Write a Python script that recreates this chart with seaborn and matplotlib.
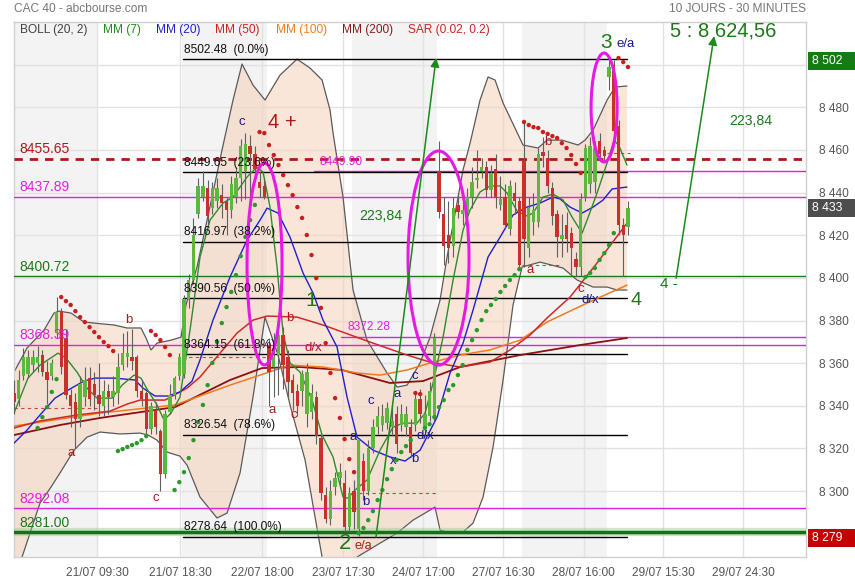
import matplotlib
matplotlib.use("Agg")
import matplotlib.pyplot as plt
from matplotlib.patches import Ellipse, Rectangle
import numpy as np
import pandas as pd
import seaborn as sns

# ---------------- data ----------------
opens = [8346, 8343, 8354, 8355, 8359, 8360, 8364, 8356, 8354, 8374, 8384, 8372, 8345, 8342, 8334, 8344, 8353, 8350,
         8345, 8340, 8347, 8344, 8346, 8359, 8363, 8363, 8363, 8347, 8346, 8329, 8338, 8328, 8308, 8337, 8345, 8354,
         8355, 8390, 8399, 8430, 8438, 8442, 8433, 8436, 8439, 8436, 8432, 8438, 8447, 8450, 8462, 8458, 8445, 8443,
         8368, 8358, 8364, 8373, 8363, 8352, 8347, 8347, 8336, 8337, 8344, 8325, 8298, 8287, 8302, 8306, 8304, 8283,
         8300, 8282, 8314, 8300, 8320, 8330, 8331, 8332, 8330, 8336, 8331, 8330, 8330, 8331, 8343, 8330, 8335, 8335,
         8450, 8430, 8420, 8415, 8434, 8430, 8431, 8438, 8446, 8450, 8452, 8441, 8451, 8434, 8438, 8423, 8440, 8436,
         8455, 8414, 8426, 8426, 8459, 8456, 8442, 8430, 8418, 8425, 8421, 8409, 8405, 8438, 8444, 8445, 8464, 8460,
         8494, 8500, 8471, 8425, 8424]
highs = [8352, 8357, 8367, 8366, 8366, 8368, 8366, 8361, 8362, 8391, 8386, 8376, 8348, 8346, 8354, 8358, 8358, 8356,
         8360, 8352, 8350, 8354, 8365, 8374, 8375, 8376, 8364, 8352, 8347, 8342, 8342, 8329, 8338, 8350, 8354, 8365,
         8392, 8402, 8428, 8447, 8450, 8446, 8445, 8447, 8444, 8438, 8448, 8452, 8465, 8468, 8467, 8462, 8450, 8446,
         8372, 8374, 8378, 8377, 8366, 8355, 8350, 8357, 8360, 8350, 8347, 8327, 8302, 8305, 8309, 8313, 8310, 8302,
         8305, 8325, 8318, 8324, 8334, 8340, 8341, 8342, 8340, 8340, 8341, 8340, 8334, 8346, 8348, 8345, 8351, 8374,
         8464, 8438, 8436, 8438, 8440, 8439, 8442, 8452, 8460, 8456, 8455, 8453, 8458, 8448, 8444, 8446, 8445, 8438,
         8473, 8438, 8440, 8461, 8466, 8460, 8445, 8432, 8430, 8431, 8424, 8412, 8440, 8463, 8466, 8464, 8468, 8462,
         8502, 8502, 8474, 8428, 8436]
lows = [8336, 8340, 8352, 8353, 8356, 8356, 8354, 8341, 8352, 8372, 8355, 8343, 8330, 8320, 8330, 8340, 8340, 8338,
        8335, 8335, 8336, 8340, 8341, 8357, 8358, 8357, 8344, 8340, 8327, 8327, 8327, 8300, 8306, 8336, 8343, 8352,
        8353, 8386, 8397, 8428, 8436, 8425, 8430, 8433, 8428, 8420, 8428, 8435, 8436, 8437, 8437, 8447, 8438, 8437,
        8340, 8344, 8345, 8348, 8343, 8338, 8335, 8340, 8330, 8334, 8322, 8296, 8285, 8284, 8298, 8303, 8281, 8281,
        8282, 8279, 8296, 8298, 8318, 8327, 8328, 8329, 8326, 8318, 8328, 8326, 8316, 8328, 8332, 8326, 8333, 8333,
        8428, 8406, 8407, 8410, 8428, 8425, 8427, 8433, 8442, 8447, 8438, 8438, 8433, 8432, 8423, 8420, 8430, 8404,
        8405, 8410, 8420, 8424, 8452, 8440, 8425, 8410, 8410, 8412, 8402, 8401, 8401, 8436, 8440, 8440, 8455, 8455,
        8488, 8465, 8420, 8401, 8420]
closes = [8342, 8352, 8363, 8363, 8363, 8363, 8356, 8352, 8360, 8384, 8358, 8345, 8340, 8334, 8350, 8352, 8343, 8345,
          8341, 8347, 8344, 8347, 8358, 8365, 8365, 8361, 8347, 8343, 8329, 8340, 8330, 8308, 8336, 8345, 8353, 8363,
          8390, 8399, 8420, 8443, 8443, 8429, 8442, 8442, 8435, 8432, 8444, 8447, 8462, 8463, 8458, 8451, 8442, 8438,
          8356, 8363, 8373, 8359, 8351, 8346, 8340, 8355, 8356, 8346, 8326, 8299, 8287, 8300, 8306, 8309, 8283, 8299,
          8290, 8324, 8300, 8320, 8330, 8335, 8335, 8339, 8333, 8322, 8336, 8336, 8318, 8343, 8336, 8336, 8347, 8372,
          8431, 8415, 8414, 8433, 8431, 8432, 8438, 8445, 8447, 8452, 8441, 8449, 8438, 8437, 8425, 8443, 8436, 8406,
          8418, 8433, 8432, 8458, 8457, 8443, 8429, 8419, 8420, 8418, 8414, 8405, 8437, 8461, 8462, 8461, 8458, 8457,
          8499, 8469, 8425, 8420, 8433]

# Bollinger (20, 2) bands: knots (bar index, price)
boll_up_x = [0, 2.75, 6.35, 8.47, 9.53, 12.07, 14.82, 16.94, 21.18, 23.93, 26.89, 27.95, 29.01, 30.28, 33.25, 35.37,
             36.42, 38.75, 41.93, 44.05, 46.38, 48.28, 50.61, 53.15, 56.33, 59.93, 62.68, 65.23, 66.92, 67.56, 69.67,
             71.79, 74.75, 78.99, 81.11, 83.23, 85.98, 88.10, 90.21, 91.70, 95.08, 96.57, 98.68, 100.38, 101.86,
             103.56, 107.79, 110.97, 112.87, 116.05, 119.44, 120.92, 122.62, 125.58, 127.27, 129.80]
boll_up_y = [8355.8, 8367.1, 8375.5, 8383.5, 8384.4, 8383.5, 8379.3, 8378.8, 8377.9, 8376.5, 8376.5, 8371.8, 8366.2,
             8369.4, 8370.8, 8372.2, 8387.3, 8405.1, 8437.9, 8460.0, 8483.4, 8500.3, 8490.4, 8483.4, 8495.1, 8502.6,
             8498.4, 8492.8, 8478.7, 8467.9, 8437.9, 8394.3, 8370.8, 8355.4, 8348.8, 8349.7, 8360.1, 8372.2, 8389.6,
             8409.8, 8450.6, 8463.2, 8483.4, 8494.2, 8492.8, 8482.0, 8462.3, 8460.9, 8464.6, 8464.6, 8462.3, 8464.6,
             8469.3, 8483.4, 8489.5, 8490.0]
boll_lo_x = [0, 1.69, 5.51, 7.84, 9.74, 12.71, 15.46, 18.21, 22.45, 26.68, 28.38, 30.28, 32.40, 35.15, 36.64, 39.39,
             42.99, 45.11, 47.86, 50.61, 53.15, 55.91, 58.45, 61.63, 65.23, 67.98, 70.73, 72.64, 77.51, 81.11, 84.50,
             88.10, 89.15, 90.21, 92.33, 95.08, 97.20, 99.32, 101.44, 103.56, 105.67, 107.58, 111.39, 116.26, 119.23,
             122.62, 125.58, 127.70, 129.80]
boll_lo_y = [8260.6, 8269.0, 8294.4, 8301.9, 8308.5, 8319.2, 8325.3, 8327.7, 8326.8, 8327.2, 8326.3, 8323.9, 8318.3,
             8316.4, 8312.2, 8297.2, 8287.4, 8289.7, 8308.5, 8344.1, 8381.6, 8363.8, 8340.4, 8314.6, 8269.1, 8244.2,
             8248.9, 8269.1, 8275.6, 8280.3, 8286.4, 8291.1, 8292.5, 8281.7, 8280.3, 8280.8, 8285.0, 8297.2, 8320.7,
             8352.1, 8387.3, 8405.1, 8407.4, 8404.6, 8399.0, 8395.7, 8395.7, 8394.3, 8394.3]

# moving averages: knots (bar index, price)
mm7_x = [0, 2.96, 5.51, 9.32, 11.01, 13.34, 15.46, 17.58, 20.75, 22.87, 25.41, 26.89, 28.16, 30.28, 31.77, 33.25,
         35.15, 37.27, 39.39, 41.51, 44.26, 46.38, 49.34, 51.46, 52.73, 54.21, 55.70, 56.97, 58.45, 60.57, 63.11,
         65.23, 67.56, 69.67, 70.73, 72.21, 74.75, 77.51, 80.26, 82.38, 85.34, 87.04, 88.73, 90.85, 92.97, 95.08,
         96.57, 98.68, 100.80, 102.92, 104.40, 106.52, 108.64, 109.91, 112.03, 114.14, 116.26, 118.17, 120.29,
         121.35, 123.46, 125.58, 127.06, 128.12, 129.80]
mm7_y = [8336.6, 8353.0, 8359.1, 8364.7, 8362.4, 8355.8, 8348.3, 8343.6, 8343.6, 8349.7, 8354.4, 8353.0, 8347.9,
         8340.4, 8333.3, 8336.6, 8344.1, 8375.5, 8409.8, 8427.1, 8435.1, 8437.9, 8447.3, 8452.0, 8449.6, 8433.2,
         8405.1, 8374.1, 8360.1, 8355.8, 8342.7, 8326.3, 8316.0, 8297.2, 8296.7, 8300.5, 8305.2, 8319.2, 8330.0,
         8331.9, 8331.9, 8336.6, 8350.7, 8372.2, 8399.0, 8422.4, 8431.8, 8440.3, 8443.1, 8443.1, 8439.8, 8431.3,
         8429.0, 8430.4, 8437.9, 8439.3, 8436.5, 8428.5, 8421.0, 8427.1, 8439.8, 8453.9, 8464.6, 8461.8, 8452.9]
mm20_x = [0, 2.75, 5.51, 8.68, 11.86, 14.82, 17.15, 21.18, 25.62, 27.32, 29.86, 32.61, 35.15, 37.70, 39.39, 42.14,
          45.74, 49.34, 52.10, 53.58, 55.91, 58.45, 61.20, 63.32, 65.44, 68.40, 70.52, 72.64, 76.03, 79.63, 82.80,
          85.98, 89.58, 92.33, 95.08, 97.20, 100.38, 102.92, 105.67, 108.64, 111.39, 114.14, 115.63, 117.74, 120.29,
          122.62, 124.73, 126.64, 129.80]
mm20_y = [8322.5, 8328.6, 8335.7, 8343.6, 8347.9, 8351.6, 8353.0, 8353.0, 8352.1, 8348.3, 8344.6, 8344.6, 8346.5,
          8351.6, 8361.5, 8380.2, 8400.4, 8417.7, 8427.1, 8432.7, 8430.4, 8419.1, 8402.3, 8392.9, 8380.2, 8367.6,
          8344.1, 8325.3, 8319.2, 8316.0, 8314.1, 8319.2, 8334.7, 8355.4, 8369.4, 8384.9, 8409.8, 8419.1, 8429.5,
          8433.2, 8435.1, 8437.9, 8437.0, 8433.2, 8430.4, 8433.2, 8436.5, 8441.7, 8442.6]
mm50_x = [0, 5.51, 13.34, 20.33, 23.93, 26.68, 31.98, 36.64, 39.39, 43.62, 47.22, 50.61, 53.58, 59.93, 65.44, 76.03,
          83.23, 88.10, 94.45, 100.80, 105.04, 109.27, 112.87, 117.74, 123.46, 129.80]
mm50_y = [8329.6, 8332.9, 8335.7, 8337.5, 8340.8, 8342.7, 8342.7, 8348.3, 8353.5, 8364.7, 8374.1, 8380.2, 8382.1,
          8381.6, 8377.9, 8369.4, 8363.8, 8360.5, 8358.2, 8360.5, 8366.2, 8373.2, 8381.2, 8391.0, 8407.0, 8425.7]
mm100_x = [0, 18.21, 34.09, 45.74, 58.45, 65.44, 72.64, 77.51, 83.23, 88.10, 94.45, 100.80, 107.16, 112.87, 121.35,
           129.80]
mm100_y = [8330.5, 8336.6, 8340.4, 8349.7, 8359.1, 8358.2, 8355.4, 8354.4, 8356.8, 8360.1, 8363.8, 8366.2, 8370.8,
           8379.3, 8388.2, 8396.6]
mm200_x = [0, 9.74, 18.21, 34.09, 45.74, 52.52, 60.57, 69.46, 79.63, 86.61, 94.45, 107.16, 119.86, 129.80]
mm200_y = [8326.3, 8331.0, 8334.3, 8339.4, 8352.1, 8357.7, 8358.2, 8356.8, 8350.7, 8351.6, 8358.2, 8363.8, 8368.5,
           8371.8]

# Parabolic SAR (0.02, 0.2): (first bar, side, values)
sar_segments = [
    (5, "up", [8329.6, 8334.7, 8339.4, 8346.5, 8352.5]),
    (10, "down", [8391.0, 8389.1, 8387.3, 8384.4, 8381.6, 8379.3, 8376.9, 8374.6, 8372.2, 8369.9, 8368.0, 8365.7]),
    (22, "up", [8318.8, 8319.7, 8320.7, 8321.6, 8322.5, 8323.9, 8325.8]),
    (29, "down", [8375.1, 8373.2, 8370.8, 8367.6, 8363.8]),
    (34, "up", [8300.5, 8304.2, 8308.9, 8315.5, 8323.9, 8332.4, 8340.4, 8349.7, 8360.1, 8369.9, 8378.8, 8386.3,
                8393.4, 8401.3, 8410.2, 8419.2, 8427.1, 8434.2]),
    (52, "down", [8468.4, 8467.9, 8462.3, 8457.6, 8452.9, 8448.2, 8443.5, 8438.8, 8433.2, 8428.1, 8420.1, 8410.7,
                  8399.9, 8385.9, 8369.4, 8355.4, 8343.6, 8334.3, 8324.4, 8315.0, 8308.9]),
    (73, "up", [8280.3, 8282.7, 8286.4, 8290.6, 8295.8, 8300.5, 8305.6, 8310.3, 8314.6, 8318.3, 8321.1, 8323.9]),
    (85, "down", [8346.0, 8345.5]),
    (87, "up", [8329.6, 8331.4, 8334.7, 8339.4, 8342.7, 8347.4, 8349.7, 8354.4, 8359.1, 8366.2, 8370.8, 8375.5,
                8380.2, 8384.4, 8387.3, 8390.1, 8393.4, 8396.2, 8399.0, 8401.3, 8404.1]),
    (108, "down", [8473.1, 8471.7, 8470.7, 8470.3, 8468.4, 8467.5, 8466.5, 8465.6, 8463.2, 8460.9, 8457.6, 8453.4,
                   8449.2]),
    (121, "up", [8400.4, 8402.3, 8404.6, 8408.4, 8411.6, 8415.4, 8421.0]),
    (128, "down", [8503.1, 8501.2, 8498.9]),
]

# Fibonacci retracement levels
fib_levels = [8502.48, 8449.65, 8416.97, 8390.56, 8364.15, 8326.54, 8278.64]
fib_pcts = ["0.0%", "23.6%", "38.2%", "50.0%", "61.8%", "78.6%", "100.0%"]

# previous-close dashed segments (start bar, end bar, price)
prev_close = [(0, 17.5, 8338.8), (35.5, 53.5, 8363.0), (71.5, 89.5, 8299.1), (107.5, 116.0, 8406.0),
              (125.5, 130.5, 8458.5)]

x_tick_pos = [17.58, 35.15, 52.5, 69.67, 86.6, 103.6, 120.6, 137.4, 154.4]
x_tick_labels = ["21/07 09:30", "21/07 18:30", "22/07 18:00", "23/07 17:30", "24/07 17:00",
                 "27/07 16:30", "28/07 16:00", "29/07 15:30", "29/07 24:30"]
y_grid = [8280, 8300, 8320, 8340, 8360, 8380, 8400, 8420, 8440, 8460, 8480, 8500]
y_ticks = [8300, 8320, 8340, 8360, 8380, 8400, 8420, 8440, 8460, 8480]
day_bands = [(-0.5, 17.5), (35.5, 53.5), (71.5, 89.5), (107.5, 125.5)]

# ---------------- figure ----------------
sns.set_theme(style="white")
plt.rcParams['font.family'] = ['Liberation Sans', 'DejaVu Sans']

W, H = 855, 580
fig = plt.figure(figsize=(W / 100, H / 100), dpi=100)
ax = fig.add_axes([14 / W, 1 - 557 / H, (806 - 14) / W, (557 - 22) / H])
ax.set_xlim(0, 167.7)
ax.set_ylim(8269.1, 8520.0)
ax.set_facecolor("white")

GREEN_C = "#5cb83c"
RED_C = "#c9302c"
MAG = "#e020e0"
DKRED = "#b01818"
FGREEN = "#1a7a1a"
NAVY = "#1a1a8c"

for a, b in day_bands:
    ax.axvspan(a, b, color="#f3f3f3", zorder=0, lw=0)
for v in y_grid:
    ax.axhline(v, color="#e2e2e2", lw=1, zorder=0.5)
for p in x_tick_pos:
    ax.axvline(p, color="#e2e2e2", lw=1, zorder=0.5)

# Bollinger band area + lines
poly_x = np.concatenate([boll_up_x, boll_lo_x[::-1]])
poly_y = np.concatenate([boll_up_y, boll_lo_y[::-1]])
ax.fill(poly_x, poly_y, color="#f6d2ba", alpha=0.55, lw=0, zorder=1)
sns.lineplot(x=boll_up_x, y=boll_up_y, ax=ax, color="#5a5a5a", lw=0.9, sort=False, estimator=None, zorder=2)
sns.lineplot(x=boll_lo_x, y=boll_lo_y, ax=ax, color="#5a5a5a", lw=0.9, sort=False, estimator=None, zorder=2)

# horizontal reference lines
ax.axhline(8455.65, color=DKRED, lw=2, ls=(0, (3, 2.5)), zorder=3)
for v in [8437.89, 8368.39, 8292.08]:
    ax.axhline(v, color=MAG, lw=1, zorder=3)
ax.axhline(8400.72, color=FGREEN, lw=1, zorder=3)
ax.axhline(8281.00, color="#8fd08f", lw=6, alpha=0.45, zorder=3)
ax.axhline(8281.00, color="#1a6e1a", lw=2.5, zorder=3)
ax.plot([63.53, 167.7], [8449.90, 8449.90], color=MAG, lw=1, zorder=3)
ax.plot([69.25, 167.7], [8372.28, 8372.28], color=MAG, lw=1, zorder=3)
for a, b, v in prev_close:
    ax.plot([a, b], [v, v], color="#d04040", lw=0.8, ls=(0, (3, 3)), zorder=3)

# fibonacci
for v, p in zip(fib_levels, fib_pcts):
    ax.plot([35.8, 129.8], [v, v], color="black", lw=1, zorder=3)
    ax.text(36.0, v + 4.4, f"{v:.2f}  ({p})", fontsize=8.6, color="#111111", ha="left", va="center", zorder=9)

# moving averages
sns.lineplot(x=mm200_x, y=mm200_y, ax=ax, color="#8b1010", lw=1.3, sort=False, estimator=None, zorder=3.5)
sns.lineplot(x=mm100_x, y=mm100_y, ax=ax, color="#f07a1a", lw=1.1, sort=False, estimator=None, zorder=3.5)
sns.lineplot(x=mm50_x, y=mm50_y, ax=ax, color="#cc2a2a", lw=1.1, sort=False, estimator=None, zorder=3.5)
sns.lineplot(x=mm20_x, y=mm20_y, ax=ax, color="#1f1fd0", lw=1.0, sort=False, estimator=None, zorder=3.6)
sns.lineplot(x=mm7_x, y=mm7_y, ax=ax, color="#2e8b2e", lw=1.0, sort=False, estimator=None, zorder=3.7)

# candles
df = pd.DataFrame({"i": np.arange(len(closes)), "open": opens, "high": highs, "low": lows, "close": closes})
up = df["close"] >= df["open"]
ax.vlines(df["i"], df["low"], df["high"], color="#606060", lw=0.8, zorder=4)
body_h = (df["close"] - df["open"]).abs().clip(lower=0.7)
body_b = df[["open", "close"]].min(axis=1)
ax.bar(df["i"], body_h, bottom=body_b, width=0.72, color=np.where(up, GREEN_C, RED_C), lw=0, zorder=5)

# SAR dots
for start, side, vals in sar_segments:
    xs = np.arange(start, start + len(vals))
    col = "#2a9a2a" if side == "up" else "#c81e1e"
    sns.scatterplot(x=xs, y=vals, ax=ax, color=col, s=10, edgecolor="none", zorder=6, legend=False)

# ellipses
for (cx, cy, w, h) in [(53.05, 8406.5, 7.41, 94.7), (89.89, 8409.3, 12.92, 100.4), (124.95, 8479.9, 5.51, 51.1)]:
    ax.add_patch(Ellipse((cx, cy), w, h, fill=False, ec="#e619e6", lw=2.2, zorder=8))

# arrows
for (x0, y0, x1, y1) in [(76.66, 8278.5, 89.37, 8503.1), (140.2, 8399.9, 148.24, 8513.4)]:
    ax.annotate("", xy=(x1, y1), xytext=(x0, y0),
                arrowprops=dict(arrowstyle="-|>", color="#1a8a1a", lw=1.1, mutation_scale=13, shrinkA=0, shrinkB=0),
                zorder=8)

# wave annotations
small = [("c", 48.28, 8473.1, NAVY), ("a", 12.07, 8317.8, DKRED), ("b", 24.35, 8380.2, DKRED),
         ("c", 30.07, 8296.7, DKRED), ("a", 54.64, 8338.0, DKRED), ("b", 58.45, 8381.2, DKRED),
         ("c", 59.30, 8335.7, DKRED), ("d/x", 63.32, 8367.1, DKRED), ("a", 71.79, 8325.3, NAVY),
         ("b", 74.54, 8294.9, NAVY), ("c", 75.60, 8342.2, NAVY), ("x", 80.26, 8314.1, NAVY),
         ("a", 81.11, 8345.5, NAVY), ("b", 84.92, 8315.0, NAVY), ("c", 84.92, 8353.9, NAVY),
         ("d/x", 87.04, 8325.8, NAVY), ("a", 109.27, 8403.7, DKRED), ("b", 113.09, 8463.7, DKRED),
         ("c", 120.08, 8394.8, DKRED), ("d/x", 121.98, 8389.6, NAVY),
         ("e/a", 129.61, 8509.7, NAVY)]
for s, x, y, c in small:
    ax.text(x, y, s, fontsize=9.5, color=c, ha="center", va="center", zorder=9)
ax.text(72.2, 8274.4, "e/a", fontsize=9.2, color=DKRED, ha="left", va="center", zorder=9)
big = [("4 +", 56.75, 8473.1, DKRED, 14.5), ("1", 62.90, 8389.6, FGREEN, 15), ("2", 70.2, 8275.6, FGREEN, 16),
       ("3", 125.37, 8510.6, FGREEN, 15), ("4", 131.72, 8389.6, FGREEN, 14), ("4 -", 138.71, 8397.1, FGREEN, 11),
       ("223,84", 77.61, 8429.0, FGREEN, 10.2), ("223,84", 156.08, 8473.5, FGREEN, 10.2),
       ("5 : 8 624,56", 150.15, 8515.8, FGREEN, 14.5)]
for s, x, y, c, fs in big:
    ax.text(x, y, s, fontsize=fs, color=c, ha="center", va="center", zorder=9)
ax.text(64.59, 8454.3, "8449.90", fontsize=8.6, color=MAG, ha="left", va="center", zorder=9)
ax.text(70.52, 8377.0, "8372.28", fontsize=8.6, color=MAG, ha="left", va="center", zorder=9)
for s, y, c in [("8455.65", 8460.4, DKRED), ("8437.89", 8442.4, MAG), ("8400.72", 8405.1, FGREEN),
                ("8368.39", 8373.2, MAG), ("8292.08", 8296.5, MAG), ("8281.00", 8285.0, FGREEN)]:
    ax.text(1.06, y, s, fontsize=10, color=c, ha="left", va="center", zorder=9)

# axes styling
ax.set_xticks(x_tick_pos, x_tick_labels)
ax.yaxis.tick_right()
ax.set_yticks(y_ticks, [f"{v // 1000} {v % 1000:03d}" for v in y_ticks])
ax.tick_params(axis="x", length=0, pad=7, labelcolor="#555555", labelsize=8.6)
ax.tick_params(axis="y", length=0, pad=9, labelcolor="#555555", labelsize=8.6)
for sp in ax.spines.values():
    sp.set_color("#d0d0d0")
    sp.set_linewidth(1)
ax.set_xlabel("")
ax.set_ylabel("")


def ftext(x, y, s, **kw):
    fig.text(x / W, 1 - y / H, s, **kw)


ftext(14, 9, "CAC 40 - abcbourse.com", fontsize=8.6, color="#777777", ha="left", va="center")
ftext(806, 9, "10 JOURS - 30 MINUTES", fontsize=8.6, color="#777777", ha="right", va="center")
for s, x, c in [("BOLL (20, 2)", 19.5, "#404040"), ("MM (7)", 102.5, "#1e8c1e"), ("MM (20)", 156, "#2222cc"),
                ("MM (50)", 215, "#cc2222"), ("MM (100)", 276, "#f07d1f"), ("MM (200)", 341.5, "#8b1a1a"),
                ("SAR (0.02, 0.2)", 408, "#cc2222")]:
    ftext(x, 30, s, fontsize=8.6, color=c, ha="left", va="center")

for yc, s, c in [(61, "8 502", "#167a16"), (208, "8 433", "#4d4d4d"), (538, "8 279", "#c40000")]:
    fig.add_artist(Rectangle((808 / W, 1 - (yc + 9) / H), (W - 808) / W, 18 / H, transform=fig.transFigure,
                             facecolor=c, edgecolor="none", zorder=5))
    ftext(812, yc, s, fontsize=8.8, color="white", ha="left", va="center", zorder=6)

fig.savefig("out.png", dpi=100)
